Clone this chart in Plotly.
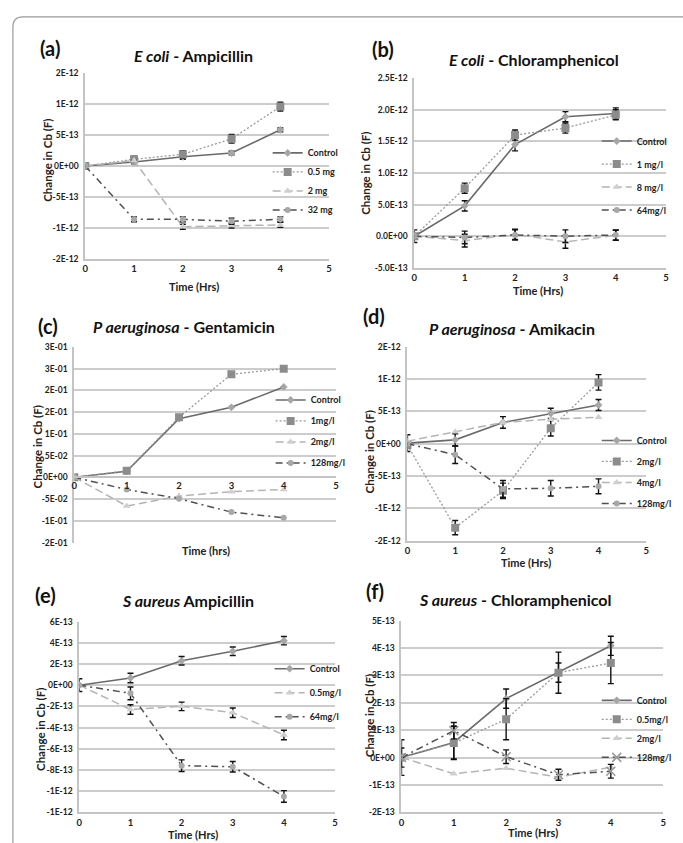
import plotly.graph_objects as go

W, H = 683, 843
TIME = [0, 1, 2, 3, 4]
X_TICKS = [0, 1, 2, 3, 4, 5]

# ---------- data ----------
A_NAMES = ["Control", "0.5 mg", "2 mg", "32 mg"]
A_CONTROL = [0, 6.5e-14, 1.5e-13, 2.1e-13, 5.85e-13]
A_CONTROL_ERR = [0, 3e-14, 4e-14, 3e-14, 3e-14]
A_05 = [0, 1.1e-13, 1.9e-13, 4.4e-13, 9.6e-13]
A_05_ERR = [0, 5e-14, 6e-14, 7e-14, 7e-14]
A_2 = [0, 9e-14, -9.8e-13, -9.6e-13, -9.5e-13]
A_2_ERR = [0, 0, 4e-14, 4e-14, 4e-14]
A_32 = [0, -8.6e-13, -8.6e-13, -8.9e-13, -8.6e-13]
A_32_ERR = [0, 4e-14, 4e-14, 5e-14, 4e-14]
A_YTICKS = [-1.5e-12, -1e-12, -5e-13, 0, 5e-13, 1e-12, 1.5e-12]
A_YTEXT = ["-2E-12", "-1E-12", "-5E-13", "0E+00", "5E-13", "1E-12", "2E-12"]

B_NAMES = ["Control", "1 mg/l", "8 mg/l", "64mg/l"]
B_CONTROL = [0, 4.8e-13, 1.45e-12, 1.89e-12, 1.94e-12]
B_CONTROL_ERR = [1e-13, 8e-14, 1e-13, 8e-14, 9e-14]
B_1 = [0, 7.6e-13, 1.6e-12, 1.71e-12, 1.92e-12]
B_1_ERR = [0, 8e-14, 8e-14, 8e-14, 8e-14]
B_8 = [0, -7e-14, 3e-14, -9e-14, 1.5e-14]
B_8_ERR = [0, 1e-13, 8e-14, 1e-13, 8e-14]
B_64 = [0, -2e-14, 2e-14, 0, 2e-14]
B_64_ERR = [0, 1e-13, 8e-14, 1e-13, 8e-14]
B_YTICKS = [-5e-13, 0, 5e-13, 1e-12, 1.5e-12, 2e-12, 2.5e-12]
B_YTEXT = ["-5.0E-13", "0.0E+00", "5.0E-13", "1.0E-12", "1.5E-12", "2.0E-12", "2.5E-12"]

C_NAMES = ["Control", "1mg/l", "2mg/l", "128mg/l"]
C_CONTROL = [0, 0.014, 0.135, 0.161, 0.208]
C_1 = [0, 0.015, 0.138, 0.237, 0.25]
C_2 = [0, -0.066, -0.043, -0.033, -0.028]
C_128 = [0, -0.028, -0.049, -0.080, -0.093]
C_YTICKS = [-0.15, -0.10, -0.05, 0, 0.05, 0.10, 0.15, 0.20, 0.25, 0.30]
C_YTEXT = ["-2E-01", "-1E-01", "-5E-02", "0E+00", "5E-02", "1E-01", "2E-01", "2E-01", "3E-01", "3E-01"]

D_NAMES = ["Control", "2mg/l", "4mg/l", "128mg/l"]
D_CONTROL = [1e-14, 6e-14, 3.3e-13, 4.7e-13, 6e-13]
D_CONTROL_ERR = [1.3e-13, 9.5e-14, 9e-14, 8e-14, 8.5e-14]
D_2 = [-2e-14, -1.3e-12, -7.3e-13, 2.4e-13, 9.5e-13]
D_2_ERR = [0, 1.1e-13, 1.2e-13, 1.2e-13, 1.2e-13]
D_4 = [4e-14, 1.85e-13, 3.3e-13, 3.8e-13, 4.1e-13]
D_4_ERR = [0, 0, 0, 0, 0]
D_128 = [0, -1.7e-13, -7.0e-13, -6.9e-13, -6.6e-13]
D_128_ERR = [0, 1.35e-13, 1.3e-13, 1.2e-13, 1.15e-13]
D_YTICKS = A_YTICKS
D_YTEXT = A_YTEXT

E_NAMES = ["Control", "0.5mg/l", "64mg/l"]
E_CONTROL = [0, 6.8e-14, 2.3e-13, 3.2e-13, 4.2e-13]
E_CONTROL_ERR = [6e-14, 4.5e-14, 4e-14, 4e-14, 4e-14]
E_05 = [0, -2.3e-13, -2.0e-13, -2.6e-13, -4.7e-13]
E_05_ERR = [0, 4.5e-14, 4e-14, 4.5e-14, 4.5e-14]
E_64 = [0, -7.7e-14, -7.6e-13, -7.7e-13, -1.05e-12]
E_64_ERR = [0, 6e-14, 5.5e-14, 5e-14, 5.5e-14]
E_YTICKS = [-1.2e-12, -1e-12, -8e-13, -6e-13, -4e-13, -2e-13, 0, 2e-13, 4e-13, 6e-13]
E_YTEXT = ["-1E-12", "-1E-12", "-8E-13", "-6E-13", "-4E-13", "-2E-13", "0E+00", "2E-13", "4E-13", "6E-13"]

F_NAMES = ["Control", "0.5mg/l", "2mg/l", "128mg/l"]
F_CONTROL = [0, 5.5e-14, 2.15e-13, 3.1e-13, 4.08e-13]
F_CONTROL_ERR = [6.5e-14, 6e-14, 3.5e-14, 3.5e-14, 3.5e-14]
F_05 = [0, 5.3e-14, 1.4e-13, 3.1e-13, 3.45e-13]
F_05_ERR = [3.5e-14, 6e-14, 7.5e-14, 7.5e-14, 7.5e-14]
F_2 = [0, -5.9e-14, -3.9e-14, -7.2e-14, -3.5e-14]
F_2_ERR = [0, 0, 0, 0, 0]
F_128 = [0, 9.8e-14, 3e-15, -6.3e-14, -5e-14]
F_128_ERR = [0, 3e-14, 2.5e-14, 2e-14, 2.5e-14]
F_YTICKS = [-2e-13, -1e-13, 0, 1e-13, 2e-13, 3e-13, 4e-13, 5e-13]
F_YTEXT = ["-2E-13", "-1E-13", "0E+00", "1E-13", "2E-13", "3E-13", "4E-13", "5E-13"]

# ---------- styles ----------
FONT = "Lato, 'Open Sans', sans-serif"
GRID = "#cccccc"
STYLE = {
    "control": dict(line=dict(color="#6a6a6a", width=1.6, dash="solid"),
                    marker=dict(symbol="diamond", size=6, color="#a6a6a6")),
    "dot": dict(line=dict(color="#9a9a9a", width=1.3, dash="2px,2px"),
                marker=dict(symbol="square", size=8, color="#8c8c8c")),
    "dash": dict(line=dict(color="#b4b4b4", width=1.5, dash="8px,4px"),
                 marker=dict(symbol="triangle-up", size=7, color="#cfcfcf")),
    "dashdot": dict(line=dict(color="#505050", width=1.5, dash="7px,4px,2px,4px"),
                    marker=dict(symbol="circle", size=6, color="#a8a8a8")),
    "dashdot_x": dict(line=dict(color="#505050", width=1.5, dash="7px,4px,2px,4px"),
                      marker=dict(symbol="x-thin", size=9, color="#9a9a9a",
                                  line=dict(color="#9a9a9a", width=1.6))),
}


def px(x):
    return x / W


def py(y):
    return 1 - y / H


PANELS = [
    dict(key="a", letter="(a)", title="<i>E coli</i> - Ampicillin", xt="Time (Hrs)",
         dom_x=(83, 329), dom_y=(69, 257), yr=(-1.5e-12, 1.5e-12), yt=A_YTICKS, ytt=A_YTEXT,
         series=[(A_NAMES[0], A_CONTROL, A_CONTROL_ERR, "control"), (A_NAMES[1], A_05, A_05_ERR, "dot"),
                 (A_NAMES[2], A_2, A_2_ERR, "dash"), (A_NAMES[3], A_32, A_32_ERR, "dashdot")],
         letter_xy=(47, 44), title_xy=(192, 51), ylab_xy=(45, 157), xlab_xy=(193, 285),
         leg_xy=(310, 152), leg_dy=17, gap=0, xpos=None),
    dict(key="b", letter="(b)", title="<i>E coli</i> - Chloramphenicol", xt="Time (Hrs)",
         dom_x=(415, 669), dom_y=(74, 266), yr=(-5e-13, 2.5e-12), yt=B_YTICKS, ytt=B_YTEXT,
         series=[(B_NAMES[0], B_CONTROL, B_CONTROL_ERR, "control"), (B_NAMES[1], B_1, B_1_ERR, "dot"),
                 (B_NAMES[2], B_8, B_8_ERR, "dash"), (B_NAMES[3], B_64, B_64_ERR, "dashdot")],
         letter_xy=(383, 45), title_xy=(536, 55), ylab_xy=(366, 170), xlab_xy=(540, 289),
         leg_xy=(642, 140), leg_dy=17, gap=4, xpos=None),
    dict(key="c", letter="(c)", title="<i>P aeruginosa</i> - Gentamicin", xt="Time (hrs)",
         dom_x=(72, 336), dom_y=(346, 544), yr=(-0.15, 0.30), yt=C_YTICKS, ytt=C_YTEXT,
         series=[(C_NAMES[0], C_CONTROL, None, "control"), (C_NAMES[1], C_1, None, "dot"),
                 (C_NAMES[2], C_2, None, "dash"), (C_NAMES[3], C_128, None, "dashdot")],
         letter_xy=(45, 325), title_xy=(183, 325), ylab_xy=(35, 447), xlab_xy=(205, 552),
         leg_xy=(313, 400), leg_dy=15, gap=2, xpos=477.7),
    dict(key="d", letter="(d)", title="<i>P aeruginosa</i> - Amikacin", xt="Time (Hrs)",
         dom_x=(408, 649), dom_y=(346, 542), yr=(-1.5e-12, 1.5e-12), yt=D_YTICKS, ytt=D_YTEXT,
         series=[(D_NAMES[0], D_CONTROL, D_CONTROL_ERR, "control"), (D_NAMES[1], D_2, D_2_ERR, "dot"),
                 (D_NAMES[2], D_4, D_4_ERR, "dash"), (D_NAMES[3], D_128, D_128_ERR, "dashdot")],
         letter_xy=(374, 315), title_xy=(514, 327), ylab_xy=(370, 452), xlab_xy=(528, 564),
         leg_xy=(642, 441), leg_dy=15, gap=2, xpos=None),
    dict(key="e", letter="(e)", title="<i>S aureus</i> Ampicillin", xt="Time (Hrs)",
         dom_x=(77, 335), dom_y=(624, 817), yr=(-1.2e-12, 6e-13), yt=E_YTICKS, ytt=E_YTEXT,
         series=[(E_NAMES[0], E_CONTROL, E_CONTROL_ERR, "control"), (E_NAMES[1], E_05, E_05_ERR, "dash"),
                 (E_NAMES[2], E_64, E_64_ERR, "dashdot")],
         letter_xy=(43, 597), title_xy=(187, 603), ylab_xy=(38, 733), xlab_xy=(192, 839),
         leg_xy=(312, 669), leg_dy=12, gap=5, xpos=None),
    dict(key="f", letter="(f)", title="<i>S aureus</i> - Chloramphenicol", xt="Time (Hrs)",
         dom_x=(402, 666), dom_y=(623, 817), yr=(-2e-13, 5e-13), yt=F_YTICKS, ytt=F_YTEXT,
         series=[(F_NAMES[0], F_CONTROL, F_CONTROL_ERR, "control"), (F_NAMES[1], F_05, F_05_ERR, "dot"),
                 (F_NAMES[2], F_2, F_2_ERR, "dash"), (F_NAMES[3], F_128, F_128_ERR, "dashdot_x")],
         letter_xy=(375, 593), title_xy=(517, 602), ylab_xy=(370, 719), xlab_xy=(535, 837),
         leg_xy=(642, 701), leg_dy=12, gap=0, xpos=None),
]

fig = go.Figure()
annotations = []
layout_extra = {}


def ann(text, xy, size, angle=0, color="#222"):
    return dict(text=text, x=px(xy[0]), y=py(xy[1]), xref="paper", yref="paper",
                xanchor="center", yanchor="middle", showarrow=False, textangle=angle,
                font=dict(family=FONT, size=size, color=color, weight="bold"))


for i, p in enumerate(PANELS, start=1):
    xa = "x" if i == 1 else f"x{i}"
    ya = "y" if i == 1 else f"y{i}"
    xname = "xaxis" if i == 1 else f"xaxis{i}"
    yname = "yaxis" if i == 1 else f"yaxis{i}"
    lname = "legend" if i == 1 else f"legend{i}"

    for name, yv, err, sk in p["series"]:
        st = STYLE[sk]
        kw = {}
        if err is not None and any(e > 0 for e in err):
            kw["error_y"] = dict(type="data", array=err, visible=True, color="#111111",
                                 thickness=1.4, width=3)
        fig.add_trace(go.Scatter(
            x=TIME, y=yv, name=name, mode="lines+markers", xaxis=xa, yaxis=ya,
            line=st["line"], marker=st["marker"], legend=lname,
            legendgroup=f"{p['key']}-{name}", **kw))

    xa_cfg = dict(domain=[px(p["dom_x"][0]), px(p["dom_x"][1])], range=[0, 5],
                  tickvals=X_TICKS, ticktext=[str(v) for v in X_TICKS],
                  showgrid=False, zeroline=False, showline=True, linecolor="#c4c4c4",
                  linewidth=2, ticks="", tickfont=dict(family=FONT, size=9.5, color="#222",
                                                       weight="bold"),
                  fixedrange=True)
    if p["xpos"] is not None:
        xa_cfg.update(anchor="free", position=py(p["xpos"]))
    else:
        xa_cfg.update(anchor=ya)
    ya_cfg = dict(domain=[py(p["dom_y"][1]), py(p["dom_y"][0])], range=list(p["yr"]),
                  tickvals=p["yt"], ticktext=p["ytt"], anchor=xa,
                  showgrid=True, gridcolor=GRID, gridwidth=2, zeroline=False,
                  showline=True, linecolor="#c4c4c4", linewidth=2, ticks="",
                  ticklabelstandoff=3,
                  tickfont=dict(family=FONT, size=8.5, color="#222", weight="bold"),
                  fixedrange=True)
    layout_extra[xname] = xa_cfg
    layout_extra[yname] = ya_cfg

    lx, ly = p["leg_xy"]
    layout_extra[lname] = dict(x=px(lx - 43), y=py(ly - p["leg_dy"]), xanchor="left", yanchor="top",
                               bgcolor="rgba(0,0,0,0)", borderwidth=0,
                               tracegroupgap=p["gap"],
                               font=dict(family=FONT, size=9, color="#222", weight="bold"))

    annotations.append(ann(p["letter"], p["letter_xy"], 20, color="#111"))
    annotations.append(ann(p["title"], p["title_xy"], 16, color="#111"))
    annotations.append(ann("Change in Cb (F)", p["ylab_xy"], 11.5, angle=-90))
    annotations.append(ann(p["xt"], p["xlab_xy"], 11))

# rounded frame around the figure
frame = (f"M {px(10)} {py(850)} L {px(10)} {py(22)} Q {px(10)} {py(12)} {px(20)} {py(12)} "
         f"L {px(690)} {py(12)}")

fig.update_layout(
    width=W, height=H, margin=dict(l=0, r=0, t=0, b=0),
    paper_bgcolor="white", plot_bgcolor="white",
    showlegend=True, annotations=annotations,
    shapes=[dict(type="path", path=frame, xref="paper", yref="paper",
                 line=dict(color="#9a9a9a", width=1.2))],
    **layout_extra,
)

fig.write_html("out.html", config={"displayModeBar": False},
               post_script="document.body.style.margin='0';")
